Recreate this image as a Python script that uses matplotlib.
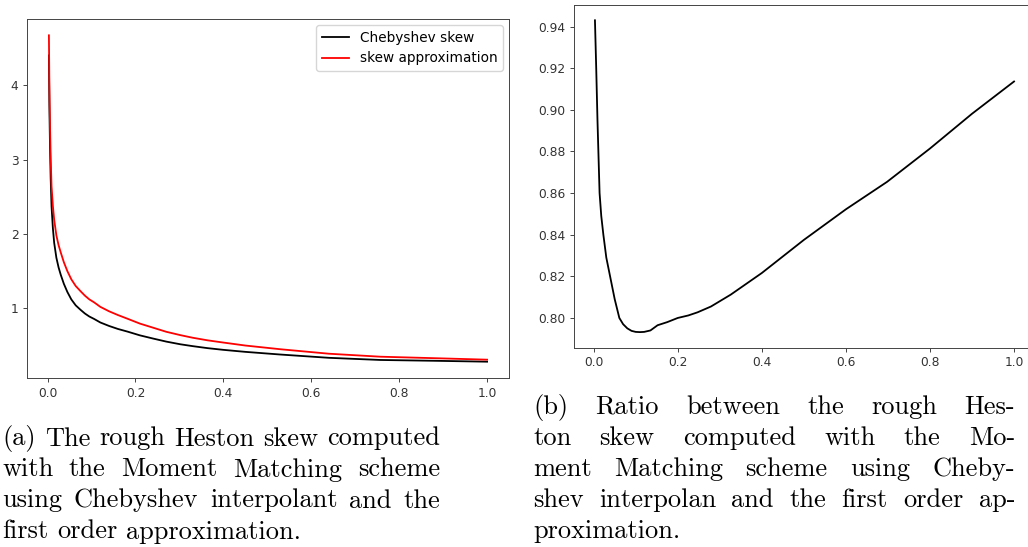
import matplotlib
matplotlib.use("Agg")
import matplotlib.pyplot as plt

# maturities (years)
t = [0.003, 0.004, 0.0055, 0.007, 0.009, 0.012, 0.015, 0.02, 0.025, 0.03,
     0.037, 0.045, 0.054, 0.064, 0.075, 0.085, 0.095, 0.106, 0.12, 0.14,
     0.16, 0.182, 0.21, 0.24, 0.27, 0.302, 0.33, 0.364, 0.4, 0.45, 0.53,
     0.64, 0.757, 0.88, 1.0]

# skew from the moment matching scheme with the Chebyshev interpolant
cheb_skew = [4.40, 3.75, 3.17, 2.75, 2.37, 2.08, 1.88, 1.68, 1.55, 1.45,
             1.33, 1.22, 1.12, 1.04, 0.98, 0.93, 0.89, 0.857, 0.81, 0.763,
             0.723, 0.687, 0.637, 0.594, 0.553, 0.517, 0.492, 0.465, 0.442,
             0.415, 0.379, 0.335, 0.306, 0.295, 0.283]

# first order skew approximation
approx_skew = [4.67, 4.05, 3.45, 3.02, 2.64, 2.38, 2.19, 1.98, 1.85, 1.75,
               1.62, 1.50, 1.39, 1.30, 1.23, 1.17, 1.12, 1.08, 1.02, 0.96,
               0.91, 0.86, 0.795, 0.74, 0.685, 0.64, 0.605, 0.57, 0.54,
               0.50, 0.45, 0.39, 0.35, 0.33, 0.31]

# ratio Chebyshev / approximation
t_ratio = [0.003, 0.006, 0.009, 0.011, 0.014, 0.018, 0.023, 0.03, 0.039,
           0.05, 0.061, 0.07, 0.08, 0.09, 0.10, 0.11, 0.12, 0.135, 0.152,
           0.175, 0.2, 0.225, 0.247, 0.279, 0.326, 0.4, 0.5, 0.6, 0.698, 0.8,
           0.9, 1.0]
ratio = [0.943, 0.920, 0.895, 0.881, 0.860, 0.849, 0.840, 0.829, 0.820,
         0.809, 0.800, 0.797, 0.795, 0.7938, 0.7933, 0.7932, 0.7933, 0.794,
         0.7965, 0.798, 0.800, 0.8012, 0.8027, 0.8055, 0.8112, 0.8216,
         0.8375, 0.8522, 0.8654, 0.8814, 0.8981, 0.9136]

caption_a = [
    "(a) The rough Heston skew computed",
    "with the Moment Matching scheme",
    "using Chebyshev interpolant and the",
    "first order approximation.",
]
caption_b = [
    "(b) Ratio between the rough Hes-",
    "ton skew computed with the Mo-",
    "ment Matching scheme using Cheby-",
    "shev interpolan and the first order ap-",
    "proximation.",
]

W, H = 1028, 547
FS = 8.8
CAP_FS = 19

plt.rcParams.update({
    "font.size": FS,
    "axes.linewidth": 0.7,
    "axes.edgecolor": "#444444",
    "xtick.color": "#444444",
    "ytick.color": "#444444",
    "xtick.labelcolor": "#333333",
    "ytick.labelcolor": "#333333",
    "xtick.major.size": 3.1,
    "ytick.major.size": 3.1,
    "xtick.major.width": 0.7,
    "ytick.major.width": 0.7,
    "xtick.major.pad": 3.1,
    "ytick.major.pad": 3.1,
})

fig = plt.figure(figsize=(W / 100, H / 100), dpi=100)


def box(x0, y0, x1, y1):
    """pixel box (top-left origin) -> figure fraction rect"""
    return [x0 / W, 1 - y1 / H, (x1 - x0) / W, (y1 - y0) / H]


ax1 = fig.add_axes(box(27, 19, 509, 378))
ax1.plot(t, cheb_skew, color="black", lw=1.3, label="Chebyshev skew")
ax1.plot(t, approx_skew, color="red", lw=1.3, label="skew approximation")
ax1.legend(loc="upper right", fontsize=9.8, borderaxespad=0.45)

ax2 = fig.add_axes(box(574, 4.7, 1035, 347.7))
ax2.plot(t_ratio, ratio, color="black", lw=1.3)


def draw_caption(lines, left, right, baselines):
    # justified paragraph: spread the words of each line (except the last)
    renderer = fig.canvas.get_renderer()
    em = CAP_FS * 100 / 72
    for i, (line, yb) in enumerate(zip(lines, baselines)):
        words = line.split()
        texts = [fig.text(0, 0, w, fontsize=CAP_FS, family="cmr10",
                          va="baseline", ha="left") for w in words]
        widths = [tx.get_window_extent(renderer).width for tx in texts]
        if i == len(lines) - 1 or len(words) == 1:
            gap = 0.333 * em
        else:
            gap = (right - left - sum(widths)) / (len(words) - 1)
        x = left
        for tx, w in zip(texts, widths):
            tx.set_position((x / W, 1 - yb / H))
            x += w + gap


draw_caption(caption_a, 2, 440, [445.5, 476.5, 507.5, 538.5])
draw_caption(caption_b, 533, 1015, [414, 445, 476, 507, 538])

fig.savefig("out.png", dpi=100)
